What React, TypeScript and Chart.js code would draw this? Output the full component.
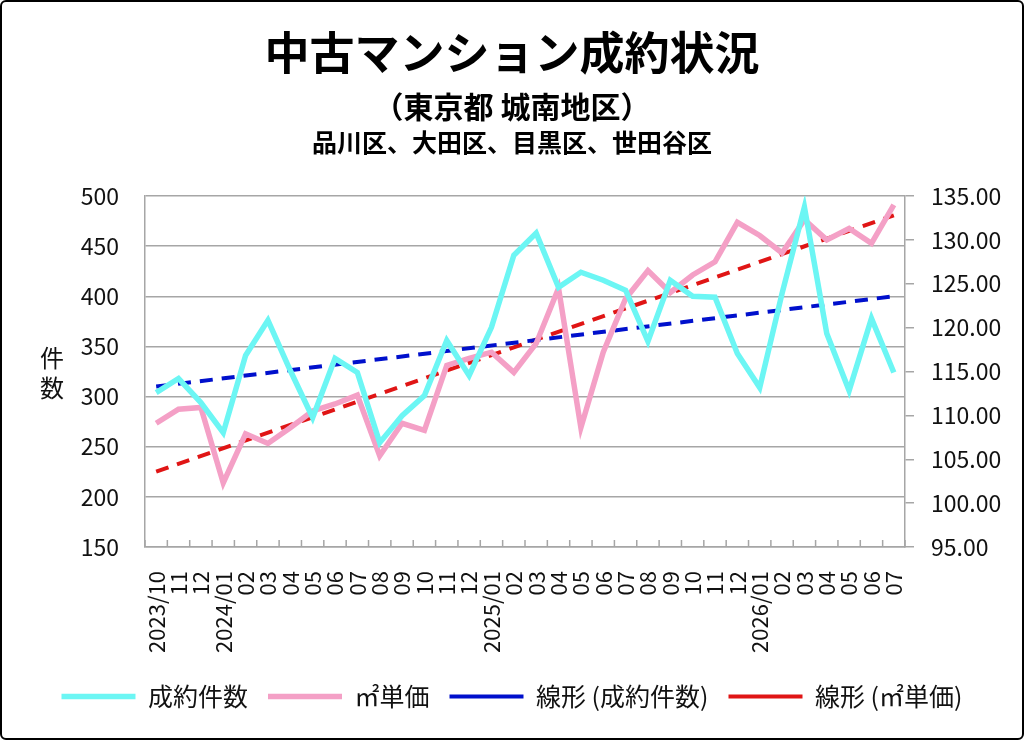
import { useEffect, useRef } from "react";
import { Chart, registerables, Plugin } from "chart.js";

Chart.register(...registerables);

// months 2023/10 .. 2026/07
const months = [
  "2023/10", "11", "12",
  "2024/01", "02", "03", "04", "05", "06", "07", "08", "09", "10", "11", "12",
  "2025/01", "02", "03", "04", "05", "06", "07", "08", "09", "10", "11", "12",
  "2026/01", "02", "03", "04", "05", "06", "07",
];

// 成約件数 (left axis)
const contracts = [
  304, 318, 294, 264, 341, 376, 326, 279, 338, 324, 254, 281, 301, 356, 321,
  369, 441, 463, 409, 424, 416, 406, 355, 416, 400, 399, 343, 309, 403, 489,
  363, 306, 378, 324,
];

// ㎡単価 (right axis, 万円)
const unitPrice = [
  109.1, 110.7, 110.9, 102.3, 107.9, 106.8, 108.6, 110.5, 111.3, 112.3, 105.4,
  109.1, 108.3, 115.7, 116.5, 117.2, 114.9, 118.2, 124.5, 108.6, 117.2, 123.3,
  126.5, 124.0, 126.0, 127.5, 132.0, 130.5, 128.5, 132.3, 130.0, 131.3, 129.6,
  134.0,
];

// linear trend lines, first and last month
const contractsTrend = [310, 400];
const priceTrend = [103.6, 132.8];

const grey = "#A6A6A6";
const font = "'Noto Sans CJK JP', 'Noto Sans', sans-serif";

const endpoints = (pair: number[]) =>
  months.map((_, i) => (i === 0 ? pair[0] : i === months.length - 1 ? pair[1] : null));

// vertical "件数" label left of the axis
const yTitle: Plugin = {
  id: "yTitle",
  afterDraw(chart) {
    const { ctx, chartArea } = chart;
    const mid = (chartArea.top + chartArea.bottom) / 2;
    ctx.save();
    ctx.font = `24px ${font}`;
    ctx.fillStyle = "#111";
    ctx.textAlign = "center";
    ctx.textBaseline = "middle";
    ctx.fillText("件", 50, mid - 14);
    ctx.fillText("数", 50, mid + 16);
    ctx.restore();
  },
};

// short tick marks pointing up from the x axis, between months
const innerTicks: Plugin = {
  id: "innerTicks",
  afterDatasetsDraw(chart) {
    const { ctx, chartArea } = chart;
    const x = chart.scales.x;
    ctx.save();
    ctx.strokeStyle = grey;
    ctx.lineWidth = 1.5;
    ctx.beginPath();
    for (let i = 0; i <= months.length; i++) {
      const px = x.getPixelForValue(i - 0.5);
      ctx.moveTo(px, chartArea.bottom);
      ctx.lineTo(px, chartArea.bottom - 7);
    }
    ctx.stroke();
    ctx.restore();
  },
};

function ContractChart() {
  const ref = useRef<HTMLCanvasElement>(null);

  useEffect(() => {
    if (!ref.current) return;
    const chart = new Chart(ref.current, {
      type: "line",
      data: {
        labels: months,
        datasets: [
          {
            label: "成約件数",
            data: contracts,
            borderColor: "#6CF6F4",
            backgroundColor: "#6CF6F4",
            borderWidth: 5.5,
            pointRadius: 0,
            tension: 0,
            yAxisID: "y",
          },
          {
            label: "㎡単価",
            data: unitPrice,
            borderColor: "#F4A0C6",
            backgroundColor: "#F4A0C6",
            borderWidth: 5.5,
            pointRadius: 0,
            tension: 0,
            yAxisID: "y1",
          },
          {
            label: "線形 (成約件数)",
            data: endpoints(contractsTrend),
            borderColor: "#0010CC",
            backgroundColor: "#0010CC",
            borderWidth: 4,
            borderDash: [13, 9],
            pointRadius: 0,
            spanGaps: true,
            yAxisID: "y",
          },
          {
            label: "線形 (㎡単価)",
            data: endpoints(priceTrend),
            borderColor: "#E01515",
            backgroundColor: "#E01515",
            borderWidth: 4,
            borderDash: [13, 9],
            pointRadius: 0,
            spanGaps: true,
            yAxisID: "y1",
          },
        ],
      },
      options: {
        responsive: false,
        animation: false,
        layout: { padding: { top: 194, bottom: 19, left: 0, right: 0 } },
        plugins: {
          legend: {
            position: "bottom",
            labels: {
              usePointStyle: true,
              pointStyle: "line",
              pointStyleWidth: 74,
              padding: 20,
              color: "#111",
              font: { size: 25, family: font },
            },
          },
          tooltip: { enabled: false },
        },
        scales: {
          x: {
            offset: true,
            grid: { display: false },
            border: { display: true, color: grey, width: 1.5 },
            ticks: {
              autoSkip: false,
              maxRotation: 90,
              minRotation: 90,
              padding: 16,
              color: "#111",
              font: { size: 22, family: font },
            },
            afterFit: (s) => { s.height = 117; },
          },
          y: {
            position: "left",
            min: 150,
            max: 500,
            ticks: {
              stepSize: 50,
              padding: 26,
              color: "#111",
              font: { size: 23, family: font },
            },
            grid: { color: grey, lineWidth: 1.5, drawTicks: false },
            border: { color: grey, width: 1.5 },
            afterFit: (s) => { s.width = 143; },
          },
          y1: {
            position: "right",
            min: 95,
            max: 135,
            ticks: {
              stepSize: 5,
              padding: 17,
              color: "#111",
              font: { size: 23, family: font },
              callback: (v) => Number(v).toFixed(2),
            },
            grid: { drawOnChartArea: false, color: grey, lineWidth: 1.5, tickLength: 9 },
            border: { color: grey, width: 1.5 },
            afterFit: (s) => { s.width = 117; },
          },
        },
      },
      plugins: [yTitle, innerTicks],
    });
    return () => chart.destroy();
  }, []);

  return (
    <canvas
      ref={ref}
      width={1020}
      height={736}
      style={{ position: "absolute", left: 0, top: 0, display: "block" }}
      role="img"
      aria-label="中古マンション成約件数と㎡単価の推移"
    />
  );
}

const titleStyle = (top: number, size: number): React.CSSProperties => ({
  position: "absolute",
  left: 0,
  right: 0,
  top,
  fontSize: size,
  fontWeight: 700,
  lineHeight: 1,
  textAlign: "center",
  color: "#000",
  whiteSpace: "nowrap",
  zIndex: 1,
});

export default function App() {
  useEffect(() => {
    document.body.style.margin = "0";
  }, []);

  return (
    <div
      style={{
        position: "relative",
        width: 1024,
        height: 740,
        boxSizing: "border-box",
        border: "2px solid #000",
        borderRadius: 6,
        background: "#fff",
        overflow: "hidden",
        fontFamily: font,
      }}
    >
      <div style={titleStyle(26, 45)}>中古マンション成約状況</div>
      <div style={titleStyle(88, 30)}>（東京都 城南地区）</div>
      <div style={titleStyle(127, 25)}>品川区、大田区、目黒区、世田谷区</div>
      <ContractChart />
    </div>
  );
}
